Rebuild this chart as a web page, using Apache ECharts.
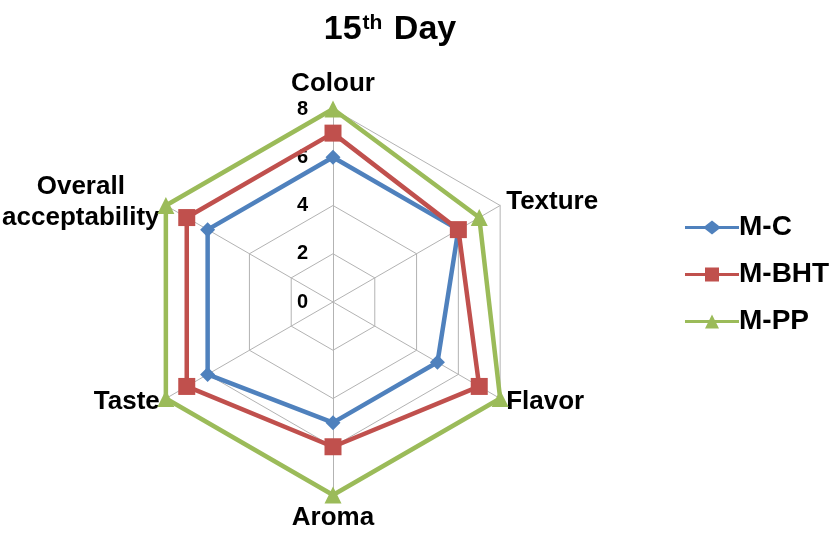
<!DOCTYPE html>
<html>
<head>
<meta charset="utf-8">
<script src="https://cdn.jsdelivr.net/npm/echarts@6/dist/echarts.min.js"></script>
<style>
html, body { margin: 0; padding: 0; background: #fff; }
#main { width: 834px; height: 533px; }
</style>
</head>
<body>
<div id="main"></div>
<script>
// indicators in the order echarts lays them out (counter-clockwise from top)
var categories = ['Colour', 'Overall\nacceptability', 'Taste', 'Aroma', 'Flavor', 'Texture'];
var seriesNames = ['M-C', 'M-BHT', 'M-PP'];
var valuesMC = [6, 6, 6, 5, 5, 6];
var valuesBHT = [7, 7, 7, 6, 7, 6];
var valuesPP = [8, 8, 8, 8, 8, 7];
var axisMax = 8;

var colors = ['#4F81BD', '#C0504D', '#9BBB59'];
var symbols = ['diamond', 'rect', 'triangle'];
var symbolSizes = [15, 17, 17];
// legend icons: line with the marker on it
var legendIcons = [
    'path://M0,5.5L20,5.5L27,0L34,5.5L54,5.5L54,8.5L34,8.5L27,14L20,8.5L0,8.5Z',
    'path://M0,5.5L20,5.5L20,0L34,0L34,5.5L54,5.5L54,8.5L34,8.5L34,14L20,14L20,8.5L0,8.5Z',
    'path://M0,5.5L24.25,5.5L27,0L29.75,5.5L54,5.5L54,8.5L31.25,8.5L34,14L20,14L22.75,8.5L0,8.5Z'
];
var allValues = [valuesMC, valuesBHT, valuesPP];

var font = 'Liberation Sans, Arial, sans-serif';

var indicators = categories.map(function (name, i) {
    var ind = { name: name, max: axisMax, min: 0 };
    if (i === 0) {
        // value labels only along the top (Colour) axis
        ind.axisLabel = {
            show: true,
            color: '#000',
            fontSize: 20,
            fontWeight: 'bold',
            fontFamily: font,
            margin: 25,
            padding: [8, 0, 0, 0]
        };
    }
    return ind;
});

var chart = echarts.init(document.getElementById('main'));
chart.setOption({
    backgroundColor: '#fff',
    animation: false,
    title: {
        text: '15{sup|th} Day',
        left: 385,
        textAlign: 'center',
        top: 8,
        textStyle: {
            fontFamily: font,
            fontSize: 34,
            fontWeight: 'bold',
            color: '#000',
            rich: {
                sup: {
                    fontFamily: font,
                    fontSize: 21,
                    fontWeight: 'bold',
                    color: '#000',
                    verticalAlign: 'top',
                    padding: [0, 2, 12, 1]
                }
            }
        }
    },
    legend: {
        orient: 'vertical',
        left: 680,
        top: 207,
        itemWidth: 54,
        itemHeight: 14,
        itemGap: 16,
        textStyle: {
            fontFamily: font,
            fontSize: 28,
            fontWeight: 'bold',
            color: '#000',
            lineHeight: 31,
            padding: [0, 0, 0, -5]
        },
        data: seriesNames.map(function (n, i) {
            return { name: n, icon: legendIcons[i], itemStyle: { color: colors[i] } };
        })
    },
    radar: {
        center: [333, 302],
        radius: 193,
        shape: 'polygon',
        splitNumber: 4,
        startAngle: 90,
        indicator: indicators,
        nameGap: 7,
        axisName: {
            color: '#000',
            fontFamily: font,
            fontSize: 26,
            fontWeight: 'bold',
            lineHeight: 31,
            formatter: function (name) {
                if (name.indexOf('\n') < 0) return name;
                return name.split('\n').map(function (l) { return '{c|' + l + '}'; }).join('\n');
            },
            rich: {
                c: {
                    width: 158,
                    align: 'center',
                    fontFamily: font,
                    fontSize: 26,
                    fontWeight: 'bold',
                    color: '#000',
                    lineHeight: 31
                }
            }
        },
        axisLine: { lineStyle: { color: '#b3b3b3', width: 1 } },
        splitLine: { lineStyle: { color: '#b3b3b3', width: 1 } },
        splitArea: { show: false },
        axisLabel: { show: false }
    },
    series: [{
        type: 'radar',
        data: allValues.map(function (vals, i) {
            return {
                name: seriesNames[i],
                value: vals,
                symbol: symbols[i],
                symbolSize: symbolSizes[i],
                lineStyle: { color: colors[i], width: 4.5 },
                itemStyle: { color: colors[i] }
            };
        })
    }]
});
</script>
</body>
</html>
